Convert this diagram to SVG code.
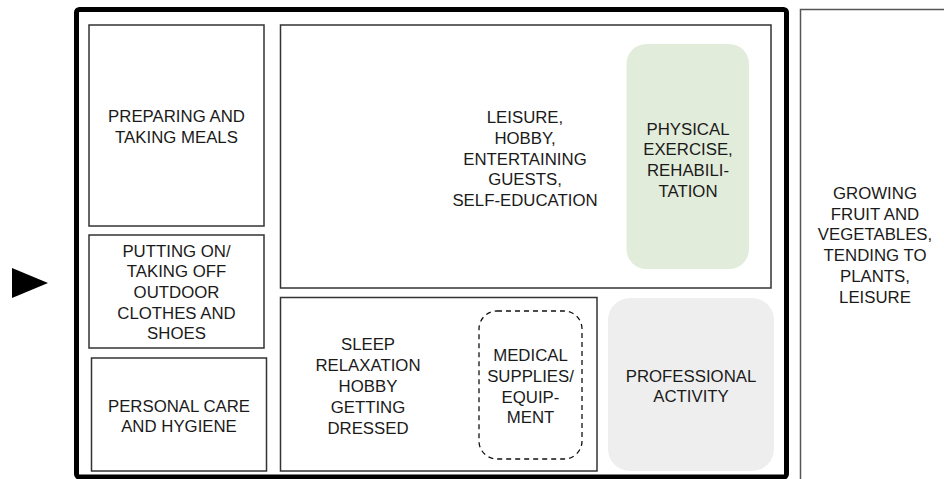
<svg xmlns="http://www.w3.org/2000/svg" width="944" height="479" viewBox="0 0 944 479">
<style>
text{font-family:"Liberation Sans",Arial,sans-serif;font-size:16.8px;fill:#1a1a1a;text-anchor:middle}
.box{fill:#fff;stroke:#333;stroke-width:1.5}
</style>
<rect width="944" height="479" fill="#fff"/>
<g id="entry-arrow"><polygon points="12,268 48,283 12,298" fill="#000"/></g>
<g id="garden">
<rect x="800.5" y="9.5" width="150" height="480" fill="#fff" stroke="#555" stroke-width="1.5"/>
<text x="875" y="199">GROWING</text>
<text x="875" y="219.7">FRUIT AND</text>
<text x="875" y="240.4">VEGETABLES,</text>
<text x="875" y="261.1">TENDING TO</text>
<text x="875" y="281.8">PLANTS,</text>
<text x="875" y="302.5">LEISURE</text>
</g>
<g id="house"><rect x="76.5" y="9.5" width="710" height="467.5" rx="3" fill="none" stroke="#000" stroke-width="5"/></g>
<g id="meals">
<rect class="box" x="89" y="25" width="175" height="201"/>
<text x="176.5" y="122">PREPARING AND</text>
<text x="176.5" y="142.7">TAKING MEALS</text>
</g>
<g id="outdoor-clothes">
<rect class="box" x="89" y="235" width="175" height="113"/>
<text x="176.5" y="256.7">PUTTING ON/</text>
<text x="176.5" y="277.3">TAKING OFF</text>
<text x="176.5" y="298">OUTDOOR</text>
<text x="176.5" y="318.6">CLOTHES AND</text>
<text x="176.5" y="339.3">SHOES</text>
</g>
<g id="personal-care">
<rect class="box" x="91.5" y="358" width="175" height="113"/>
<text x="179" y="411.7">PERSONAL CARE</text>
<text x="179" y="432.3">AND HYGIENE</text>
</g>
<g id="leisure">
<rect class="box" x="280.5" y="25" width="490.5" height="263"/>
<text x="525" y="123">LEISURE,</text>
<text x="525" y="143.8">HOBBY,</text>
<text x="525" y="164.6">ENTERTAINING</text>
<text x="525" y="185.4">GUESTS,</text>
<text x="525" y="206.2">SELF-EDUCATION</text>
</g>
<g id="physical-exercise">
<rect x="626.5" y="44" width="122.5" height="225" rx="20" fill="#e2ecdb"/>
<text x="688" y="134.5">PHYSICAL</text>
<text x="688" y="155.3">EXERCISE,</text>
<text x="688" y="176.1">REHABILI-</text>
<text x="688" y="196.9">TATION</text>
</g>
<g id="sleep">
<rect class="box" x="280.5" y="297.5" width="316.5" height="173.5"/>
<text x="368" y="350.3">SLEEP</text>
<text x="368" y="371.1">RELAXATION</text>
<text x="368" y="391.9">HOBBY</text>
<text x="368" y="412.7">GETTING</text>
<text x="368" y="433.5">DRESSED</text>
</g>
<g id="medical">
<rect x="479" y="311" width="103" height="148" rx="18" fill="none" stroke="#111" stroke-width="1.3" stroke-dasharray="5,4"/>
<text x="530.5" y="361">MEDICAL</text>
<text x="530.5" y="381.8">SUPPLIES/</text>
<text x="530.5" y="402.6">EQUIP-</text>
<text x="530.5" y="423.4">MENT</text>
</g>
<g id="professional">
<rect x="608" y="298" width="166" height="173" rx="22" fill="#eeeeee"/>
<text x="691" y="381.5">PROFESSIONAL</text>
<text x="691" y="402.3">ACTIVITY</text>
</g>
<g id="connectors"></g>
</svg>
